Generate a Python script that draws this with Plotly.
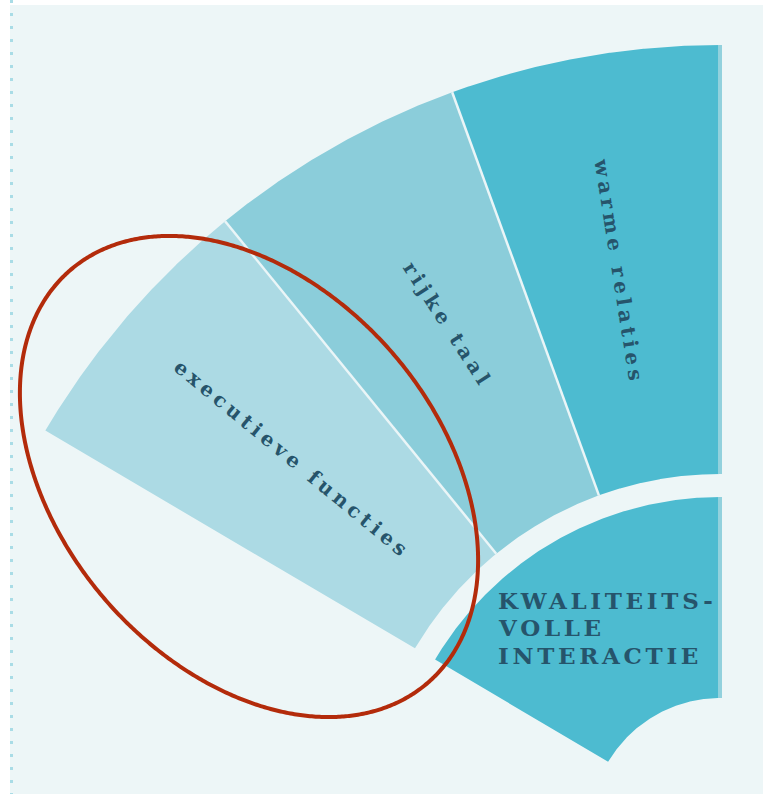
import numpy as np
import plotly.graph_objects as go

# ---- data -------------------------------------------------------------
segments = ["warme relaties", "rijke taal", "executieve functies"]
seg_start = [90.0, 110.0, 129.2]      # degrees
seg_end = [110.0, 129.2, 149.5]
ring_inner = 354
ring_outer = 783

core_lines = ["KWALITEITS-", "VOLLE", "INTERACTIE"]
core_start = 90.0
core_end = 149.4
core_inner = 130
core_outer = 331

label_theta = [100.3, 118.4, 139.2]
label_r = [565, 572, 565]
label_rot = [81, 57, 39.5]

# highlight ellipse (centre, semi-axes, rotation)
ell_center = (-471, 351.5)
ell_axes = (273, 189.3)
ell_rot = -49

# ---- styles -----------------------------------------------------------
seg_colors = ["#4DBBD0", "#8BCDDA", "#ACDAE4"]
core_color = "#4DBBD0"
bg_color = "#EDF6F7"
divider_color = "#EAF5F7"
edge_color = "#92D1DD"
text_color = "#26546B"
red = "#B32B0B"
FONT = "DejaVu Serif"


def sector(r0, r1, t0, t1, n=240):
    t_out = np.radians(np.linspace(t0, t1, n))
    t_in = t_out[::-1]
    x = np.concatenate([r1 * np.cos(t_out), r0 * np.cos(t_in), [r1 * np.cos(t_out[0])]])
    y = np.concatenate([r1 * np.sin(t_out), r0 * np.sin(t_in), [r1 * np.sin(t_out[0])]])
    return x, y


def radial(r0, r1, t):
    a = np.radians(t)
    return [r0 * np.cos(a), r1 * np.cos(a)], [r0 * np.sin(a), r1 * np.sin(a)]


fig = go.Figure()

# outer ring segments
for name, t0, t1, col in zip(segments, seg_start, seg_end, seg_colors):
    x, y = sector(ring_inner, ring_outer, t0, t1)
    fig.add_trace(go.Scatter(x=x, y=y, fill="toself", fillcolor=col, mode="lines",
                             line=dict(width=0, color=col), hoverinfo="skip", name=name))

# core segment
x, y = sector(core_inner, core_outer, core_start, core_end)
fig.add_trace(go.Scatter(x=x, y=y, fill="toself", fillcolor=core_color, mode="lines",
                         line=dict(width=0, color=core_color), hoverinfo="skip"))

# dividers between ring segments
for t in seg_start[1:]:
    dx, dy = radial(ring_inner, ring_outer, t)
    fig.add_trace(go.Scatter(x=dx, y=dy, mode="lines", line=dict(color=divider_color, width=2.5),
                             hoverinfo="skip"))

# light right-hand edges
for r0, r1 in [(ring_inner, ring_outer), (core_inner, core_outer)]:
    dx, dy = radial(r0, r1, 90)
    fig.add_trace(go.Scatter(x=dx, y=dy, mode="lines", line=dict(color=edge_color, width=4),
                             hoverinfo="skip"))

# highlight ellipse
tt = np.linspace(0, 2 * np.pi, 721)
phi = np.radians(ell_rot)
ex = ell_center[0] + ell_axes[0] * np.cos(tt) * np.cos(phi) - ell_axes[1] * np.sin(tt) * np.sin(phi)
ey = ell_center[1] + ell_axes[0] * np.cos(tt) * np.sin(phi) + ell_axes[1] * np.sin(tt) * np.cos(phi)
fig.add_trace(go.Scatter(x=ex, y=ey, mode="lines", line=dict(color=red, width=4, simplify=False),
                         hoverinfo="skip"))

# dotted guide line on the left
fig.add_trace(go.Scatter(x=[-708.5, -708.5], y=[828, 34], mode="lines",
                         line=dict(color="#A9DCE6", width=3, dash="3px,10px"), hoverinfo="skip"))

# labels
for name, th, r, rot in zip(segments, label_theta, label_r, label_rot):
    a = np.radians(th)
    fig.add_annotation(x=r * np.cos(a), y=r * np.sin(a), xref="x", yref="y",
                       text=f"<span style='letter-spacing:4.4px'>{name}</span>",
                       showarrow=False, textangle=rot, xanchor="center", yanchor="middle",
                       font=dict(family=FONT, size=20, color=text_color, weight="bold"))

for i, s in enumerate(core_lines):
    fig.add_annotation(x=-224, y=228 - 27.5 * i, xref="x", yref="y",
                       text=f"<span style='letter-spacing:3.7px'>{s}</span>",
                       showarrow=False, xanchor="left", yanchor="middle", align="left",
                       font=dict(family=FONT, size=23, color=text_color, weight="bold"))

fig.update_layout(
    width=763, height=794, autosize=False,
    margin=dict(l=0, r=0, t=0, b=0, pad=0),
    paper_bgcolor="white", plot_bgcolor="white",
    showlegend=False,
    xaxis=dict(range=[-720, 43], visible=False, fixedrange=True),
    yaxis=dict(range=[34, 828], visible=False, fixedrange=True),
    shapes=[dict(type="rect", xref="x", yref="y", x0=-710, x1=43, y0=34, y1=823,
                 fillcolor=bg_color, line=dict(width=0), layer="below")],
)

fig.write_html("out.html", config={"displayModeBar": False},
               post_script="document.body.style.margin='0';")
